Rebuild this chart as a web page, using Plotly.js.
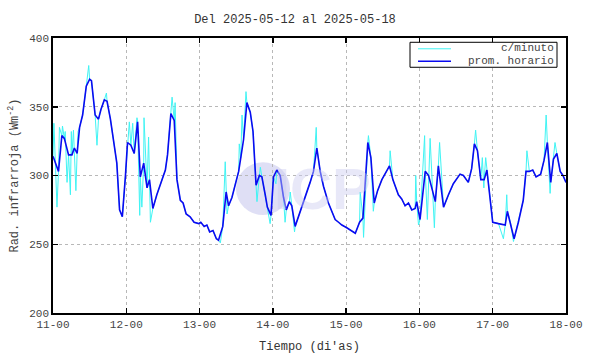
<!DOCTYPE html>
<html>
<head>
<meta charset="utf-8">
<script src="https://cdn.plot.ly/plotly-3.0.1.min.js"></script>
<style>html,body{margin:0;padding:0;background:#fff;}#chart{width:590px;height:354px;}</style>
</head>
<body>
<div id="chart"></div>
<script>
// Hours since 2025-05-11 00:00 and hourly-average values (W/m2)
const hourTimes = [0,1.8,2.9,3.7,5.1,6.2,7.0,7.9,8.7,9.7,10.9,12.0,12.6,13.8,14.9,15.7,16.8,17.7,18.8,19.8,20.9,21.8,22.7,23.7,
24.4,25.5,26.6,27.7,28.6,29.7,30.8,31.6,32.7,34.0,35.7,36.8,37.5,38.6,39.7,40.6,41.7,42.6,43.6,44.9,46.2,47.7,
48.4,49.5,50.4,51.3,52.4,53.5,54.2,55.6,56.7,57.5,58.6,59.7,60.8,61.5,62.4,63.5,64.6,65.5,66.5,67.6,68.4,69.5,70.2,71.4,
72.2,73.3,74.4,75.5,76.4,77.4,78.2,79.3,80.4,81.8,83.1,84.2,85.3,86.4,87.5,88.6,90.2,92.4,93.5,94.6,
96.2,99.0,100.4,101.5,103.1,104.1,105.2,106.3,107.7,109.1,110.2,111.3,113.1,114.2,115.3,116.4,117.5,118.6,119.1,
120.2,121.9,123.0,125.2,126.2,127.9,129.5,131.1,133.3,134.4,136.0,137.1,138.0,139.0,140.1,141.2,142.1,142.9,
144.0,145.9,148.1,148.8,149.9,151.0,152.4,154.0,154.9,156.0,157.1,158.2,159.7,160.8,161.9,163.0,163.9,165.0,166.1,167.0,168];
const hourValues = [314,303,329,327,315,315,320,316,335,344,365,370,369,344,341,348,355,354,341,326,309,275,270,299,
324,322,316,339,299,309,291,297,276,286,297,304,315,345,340,297,282,280,272,270,266,265,
266,263,264,259,260,254,253,263,288,278,284,294,303,313,326,353,346,332,293,300,299,286,277,271,
299,304,300,284,275,281,278,263,270,280,288,295,303,320,303,292,280,268,266,264,
262,258,266,269,324,313,280,289,297,303,307,297,286,283,278,280,275,276,281,
268,303,300,281,307,277,286,294,301,300,295,305,323,318,297,297,304,287,
266,265,264,274,265,254,266,282,303,303,304,299,301,311,324,295,312,316,303,300,295];

// Per-minute extremes (hours since 2025-05-11 00:00)
const minuteTimes = [0.3,1.3,2.1,3.1,4.0,4.6,5.7,6.0,6.7,7.5,8.2,11.7,14.4,17.5,25.0,26.1,27.5,28.4,29.1,29.8,31.3,31.9,39.0,40.0,
54.8,56.4,57.0,61.0,61.9,63.2,66.8,67.9,71.1,73.0,76.0,77.7,79.1,86.2,100.6,101.7,103.3,104.9,110.4,
118.8,119.7,121.7,122.6,123.5,124.9,126.6,138.4,140.6,141.1,141.7,147.5,148.6,150.8,155.2,161.5,162.8,164.4];
const minuteValues = [338,277,335,336,332,295,286,332,333,289,332,380,322,360,339,338,342,271,277,342,328,266,357,353,
251,310,272,323,344,361,281,306,265,294,266,288,259,335,288,255,329,274,318,
300,264,329,268,327,262,324,333,313,291,313,254,286,252,318,344,287,324];

const dayTicks = ['2025-05-11','2025-05-12','2025-05-13','2025-05-14','2025-05-15','2025-05-16','2025-05-17','2025-05-18'];
const seriesNames = ['c/minuto', 'prom. horario'];
const seriesColors = ['#40f4f4', '#0a0af0'];

const t0 = Date.UTC(2025, 4, 11);
const toDate = h => new Date(t0 + h * 3600000).toISOString().replace('T', ' ').slice(0, 19);

// per-minute trace follows the hourly line plus the read extremes, in time order
const mPts = hourTimes.map((h, i) => [h, hourValues[i]])
  .concat(minuteTimes.map((h, i) => [h, minuteValues[i]]))
  .sort((a, b) => a[0] - b[0]);

const mono = 'Liberation Mono, DejaVu Sans Mono, monospace';

const traces = [
  {
    x: mPts.map(p => toDate(p[0])), y: mPts.map(p => p[1]),
    type: 'scatter', mode: 'lines', name: seriesNames[0],
    line: {color: seriesColors[0], width: 1}
  },
  {
    x: hourTimes.map(toDate), y: hourValues,
    type: 'scatter', mode: 'lines', name: seriesNames[1],
    line: {color: seriesColors[1], width: 1.6}
  }
];

// compact legend box (pixel -> paper helpers)
const px = x => (x - 53) / 513;
const py = y => (313 - y) / 275.3;

const layout = {
  width: 590, height: 354,
  margin: {l: 53, r: 24, t: 38, b: 41},
  paper_bgcolor: '#fff', plot_bgcolor: '#fff',
  font: {family: mono, size: 11, color: '#444'},
  title: {text: 'Del 2025-05-12 al 2025-05-18', x: 0.5, xanchor: 'center', y: 0.948, yanchor: 'middle',
          font: {family: mono, size: 12, color: '#333'}},
  showlegend: false,
  xaxis: {
    type: 'date', range: [dayTicks[0], dayTicks[7]],
    tickmode: 'array', tickvals: dayTicks, tickformat: '%d-%H',
    ticks: 'inside', ticklen: 5, tickcolor: '#000', tickwidth: 1.5,
    showline: true, linecolor: '#000', linewidth: 1.8, mirror: 'ticks',
    showgrid: true, gridcolor: '#b8b8b8', griddash: 'dot', gridwidth: 1,
    zeroline: false,
    title: {text: "Tiempo (di'as)", font: {family: mono, size: 12, color: '#333'}, standoff: 11}
  },
  yaxis: {
    range: [200, 400], tickvals: [200, 250, 300, 350, 400],
    ticks: 'inside', ticklen: 5, tickcolor: '#000', tickwidth: 1.5,
    showline: true, linecolor: '#000', linewidth: 1.8, mirror: 'ticks',
    showgrid: true, gridcolor: '#b8b8b8', griddash: 'dot', gridwidth: 1,
    zeroline: false,
    title: {text: 'Rad. infrarroja (Wm<sup>-2</sup>)', font: {family: mono, size: 12, color: '#444'}, standoff: 8}
  },
  shapes: [
    {type: 'circle', xref: 'paper', yref: 'paper', layer: 'below',
     x0: px(236), x1: px(290), y0: py(215), y1: py(162),
     fillcolor: 'rgba(215,215,242,0.8)', line: {width: 0}},
    {type: 'rect', xref: 'paper', yref: 'paper', x0: px(410), x1: px(557), y0: py(67), y1: py(42),
     fillcolor: '#fff', line: {color: '#000', width: 1}},
    {type: 'line', xref: 'paper', yref: 'paper', x0: px(418), x1: px(451), y0: py(48.5), y1: py(48.5),
     line: {color: seriesColors[0], width: 1}},
    {type: 'line', xref: 'paper', yref: 'paper', x0: px(418), x1: px(451), y0: py(61), y1: py(61),
     line: {color: seriesColors[1], width: 1.6}}
  ],
  annotations: [
    {text: '<b>ICP</b>', xref: 'paper', yref: 'paper', x: px(322), y: py(188),
     showarrow: false, font: {family: 'Liberation Sans, Arial, sans-serif', size: 58, color: 'rgba(205,205,240,0.45)'}},
    {text: seriesNames[0], xref: 'paper', yref: 'paper', x: px(556), y: py(48), xanchor: 'right', yanchor: 'middle',
     showarrow: false, font: {family: mono, size: 11, color: '#444'}},
    {text: seriesNames[1], xref: 'paper', yref: 'paper', x: px(556), y: py(60.5), xanchor: 'right', yanchor: 'middle',
     showarrow: false, font: {family: mono, size: 11, color: '#444'}}
  ]
};

Plotly.newPlot('chart', traces, layout, {displayModeBar: false, staticPlot: true});
</script>
</body>
</html>
